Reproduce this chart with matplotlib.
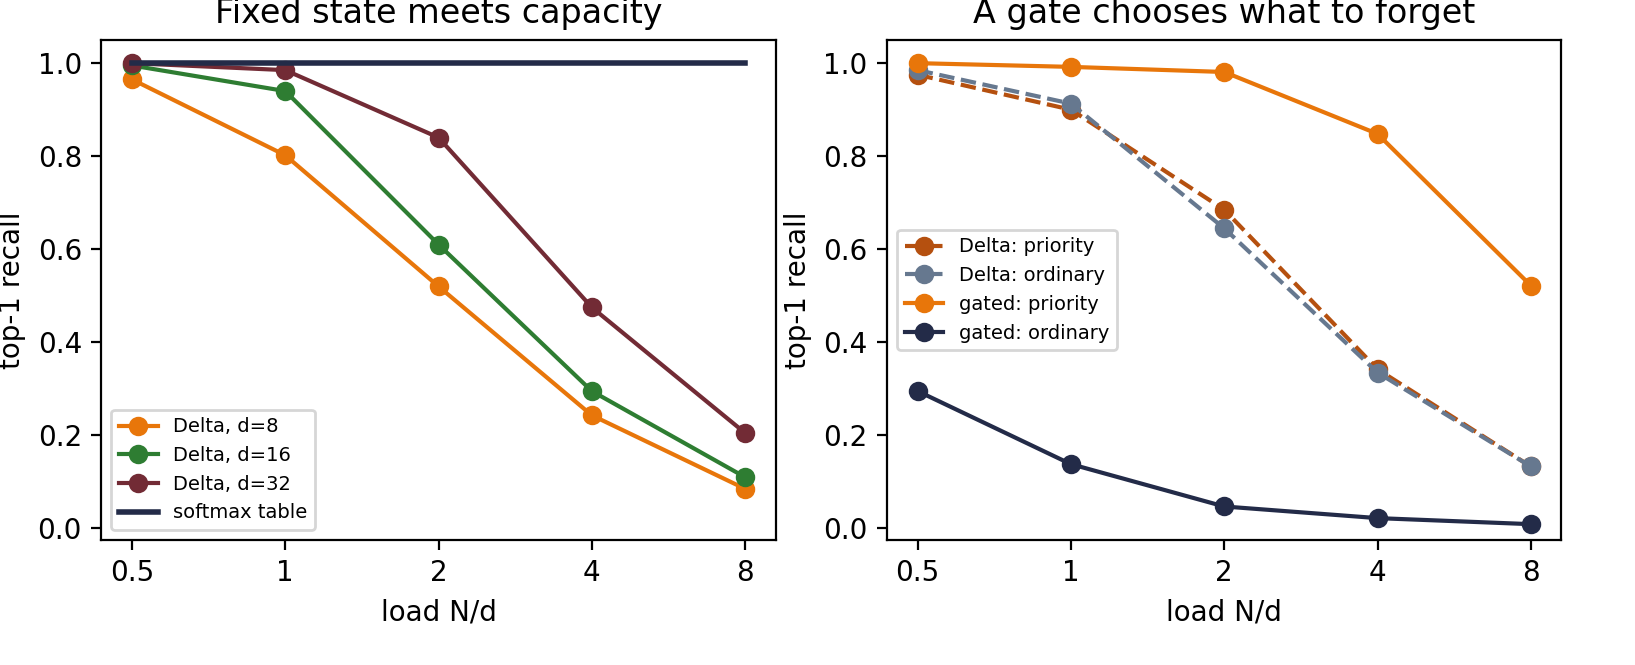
import matplotlib
matplotlib.use("Agg")
import matplotlib.pyplot as plt

loads = [0.5, 1, 2, 4, 8]
tick_labels = ["0.5", "1", "2", "4", "8"]
delta_d8 = [0.965, 0.802, 0.52, 0.243, 0.085]
delta_d16 = [0.995, 0.94, 0.61, 0.295, 0.11]
delta_d32 = [1.0, 0.985, 0.84, 0.475, 0.205]
softmax = [1.0, 1.0, 1.0, 1.0, 1.0]

delta_pri = [0.975, 0.90, 0.685, 0.342, 0.133]
delta_ord = [0.985, 0.913, 0.645, 0.335, 0.133]
gated_pri = [1.0, 0.992, 0.981, 0.848, 0.522]
gated_ord = [0.295, 0.138, 0.047, 0.022, 0.009]

ORANGE = "#e8760a"
GREEN = "#2e7d32"
MAROON = "#722b35"
NAVY = "#232b48"
BROWN = "#b5500f"
SLATE = "#66788f"

fig, (ax1, ax2) = plt.subplots(1, 2, figsize=(8.175, 3.325), dpi=200)

ax1.plot(loads, delta_d8, "-o", color=ORANGE, label="Delta, d=8")
ax1.plot(loads, delta_d16, "-o", color=GREEN, label="Delta, d=16")
ax1.plot(loads, delta_d32, "-o", color=MAROON, label="Delta, d=32")
ax1.plot(loads, softmax, "-", color=NAVY, lw=2, label="softmax table")
ax1.set_title("Fixed state meets capacity")

ax2.plot(loads, delta_pri, "--o", color=BROWN, label="Delta: priority")
ax2.plot(loads, delta_ord, "--o", color=SLATE, label="Delta: ordinary")
ax2.plot(loads, gated_pri, "-o", color=ORANGE, label="gated: priority")
ax2.plot(loads, gated_ord, "-o", color=NAVY, label="gated: ordinary")
ax2.set_title("A gate chooses what to forget")

for ax in (ax1, ax2):
    ax.set_xscale("log", base=2)
    ax.set_xticks(loads)
    ax.set_xticklabels(tick_labels)
    ax.minorticks_off()
    ax.set_xlabel("load N/d")
    ax.set_ylabel("top-1 recall")
    ax.set_ylim(-0.025, 1.05)
    ax.set_yticks([0.0, 0.2, 0.4, 0.6, 0.8, 1.0])

ax1.legend(loc="lower left", fontsize=7)
ax2.legend(loc="center left", fontsize=7)

fig.subplots_adjust(left=0.062, right=0.955, top=0.94, bottom=0.188, wspace=0.165)
fig.savefig("out.png", dpi=200)
